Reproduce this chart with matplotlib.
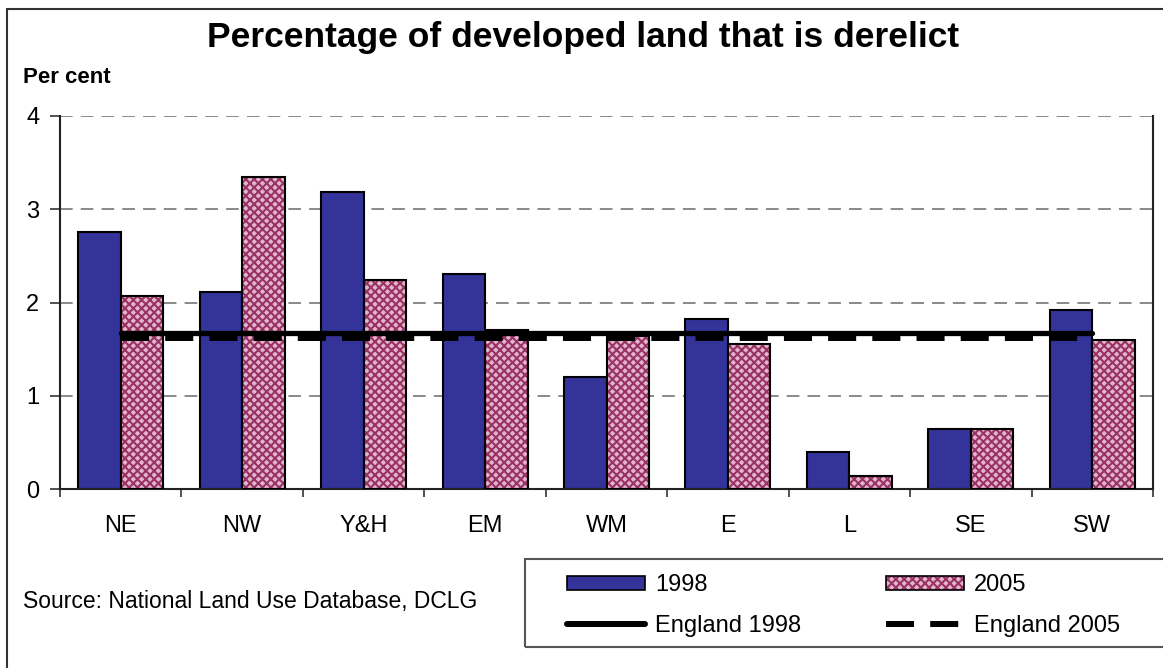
import matplotlib.pyplot as plt
import numpy as np
from matplotlib.patches import Patch, Rectangle
from matplotlib.lines import Line2D

# regions and derelict share of developed land (per cent)
regions = ['NE', 'NW', 'Y&H', 'EM', 'WM', 'E', 'L', 'SE', 'SW']
pct_1998 = [2.76, 2.11, 3.19, 2.31, 1.20, 1.82, 0.40, 0.64, 1.92]
pct_2005 = [2.07, 3.35, 2.24, 1.71, 1.64, 1.56, 0.14, 0.64, 1.60]
england_1998 = 1.67
england_2005 = 1.62
y_ticks = [0, 1, 2, 3, 4]

W, H = 1163, 668
BLUE = '#333399'
PINK = '#993366'
PINK_BG = '#e3b5cc'

plt.rcParams['font.family'] = ['Liberation Sans', 'DejaVu Sans']
plt.rcParams['hatch.linewidth'] = 1.5

fig = plt.figure(figsize=(W / 100, H / 100), dpi=100)


def fx(px):
    return px / W


def fy(py):
    return 1 - py / H


ax = fig.add_axes([fx(60), fy(489), fx(1153 - 60), (489 - 116) / H])

x = np.arange(len(regions))
bw = 0.35

# 1998 solid bars
ax.bar(x - bw / 2, pct_1998, bw, color=BLUE, edgecolor='black', linewidth=1.5, zorder=2)
# 2005 patterned bars: hatch layer then black outline
ax.bar(x + bw / 2, pct_2005, bw, color=PINK_BG, edgecolor=PINK, linewidth=0,
       hatch='xxxx', zorder=2)
ax.bar(x + bw / 2, pct_2005, bw, fill=False, edgecolor='black', linewidth=1.5, zorder=3)

# England averages across all regions
ax.plot([x[0], x[-1]], [england_2005, england_2005], color='black', lw=4.3,
        linestyle=(0, (4.7, 2.7)), dash_capstyle='butt', zorder=4)
ax.plot([x[0], x[-1]], [england_1998, england_1998], color='black', lw=3.8,
        solid_capstyle='round', zorder=5)

ax.set_xlim(-0.5, len(regions) - 0.5)
ax.set_ylim(0, 4)
ax.set_yticks(y_ticks)
ax.set_xticks(x)
ax.set_xticklabels(regions)
ax.set_xticks(np.arange(len(regions) + 1) - 0.5, minor=True)
ax.tick_params(axis='x', which='major', length=0, pad=19, labelsize=17)
ax.tick_params(axis='x', which='minor', length=6, width=1.2, direction='out', color='#333333')
ax.tick_params(axis='y', length=7, width=1.2, pad=8, labelsize=17, color='#333333')

ax.yaxis.grid(True, color='#808080', linewidth=1.3, linestyle=(0, (7, 4.5)))
ax.set_axisbelow(True)
ax.spines['top'].set_visible(False)
for side in ['left', 'bottom', 'right']:
    ax.spines[side].set_linewidth(1.5)
    ax.spines[side].set_color('#222222')

# titles and source note
fig.text(fx(583), fy(47), 'Percentage of developed land that is derelict',
         ha='center', va='baseline', fontsize=25.5, fontweight='bold')
fig.text(fx(23), fy(83), 'Per cent', ha='left', va='baseline', fontsize=16, fontweight='bold')
fig.text(fx(23), fy(608), 'Source: National Land Use Database, DCLG', ha='left',
         va='baseline', fontsize=16.5)

# outer chart border and legend box (both run off the right and bottom edges)
fig.patches.append(Rectangle((fx(7), -0.05), 1.2, fy(9) + 0.05, transform=fig.transFigure,
                             fill=False, edgecolor='#333333', linewidth=1.5))
fig.patches.append(Rectangle((fx(525), fy(647)), 1.0, (647 - 559) / H,
                             transform=fig.transFigure, fill=False, edgecolor='#555555',
                             linewidth=1.5))

handles = [
    Patch(facecolor=BLUE, edgecolor='black', linewidth=1.2),
    Line2D([], [], color='black', lw=4.3, solid_capstyle='round'),
    (Patch(facecolor=PINK_BG, edgecolor=PINK, linewidth=0, hatch='xxxx'),
     Patch(fill=False, edgecolor='black', linewidth=1.2)),
    Line2D([], [], color='black', lw=4.3, linestyle=(0, (4.7, 2.7))),
]
labels = ['1998', 'England 1998', '2005', 'England 2005']
fig.legend(handles, labels, ncol=2, loc='upper left',
           bbox_to_anchor=(fx(567), fy(574)), frameon=False, fontsize=17,
           handlelength=3.3, handleheight=0.55, handletextpad=0.42,
           columnspacing=3.6, labelspacing=0.8, borderpad=0, borderaxespad=0)

fig.savefig('out.png', dpi=100)
